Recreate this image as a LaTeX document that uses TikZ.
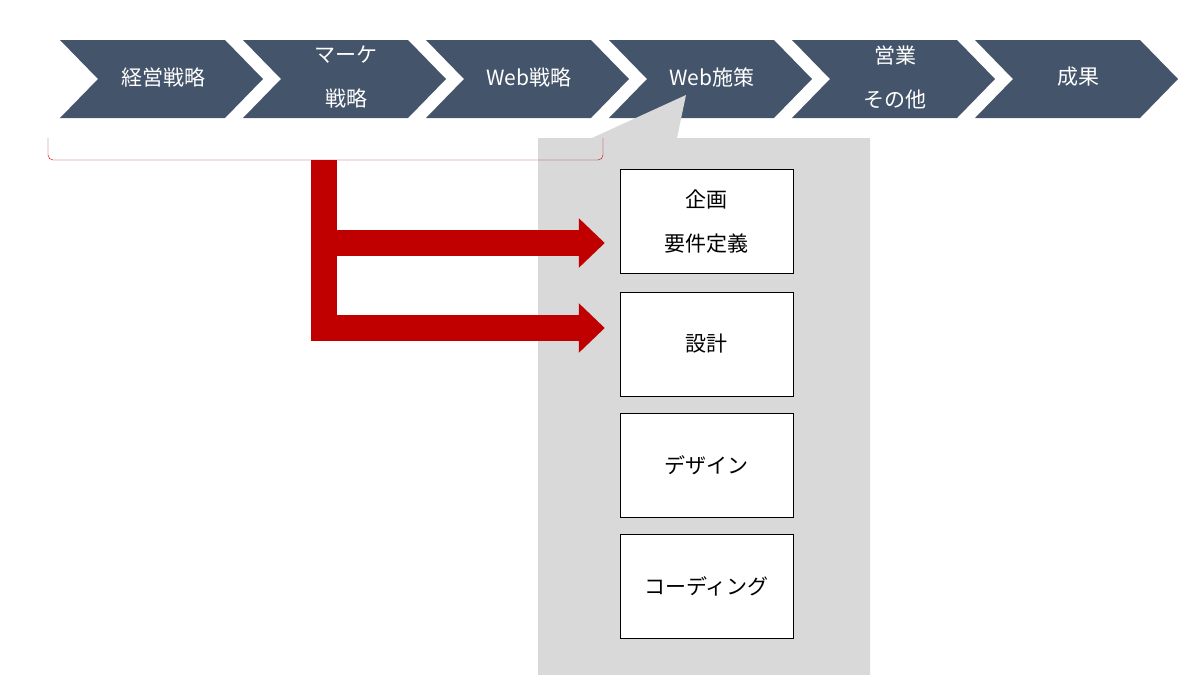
\documentclass[tikz,border=0pt]{standalone}
\usepackage{fontspec}
\setmainfont{Noto Sans CJK JP}
\usetikzlibrary{arrows.meta}
\definecolor{navy}{HTML}{44546A}
\definecolor{darkred}{HTML}{C00000}
\definecolor{lightgray}{HTML}{D9D9D9}
\tikzset{
  chevron/.style={fill=navy},
  steplabel/.style={text=white,font=\fontsize{21}{44}\selectfont,align=center},
  task/.style={draw,thin,fill=white,minimum width=173pt,minimum height=104pt,
    font=\fontsize{21}{44}\selectfont,align=center},
  flow/.style={darkred,line width=26pt,line join=miter,
    -{Triangle[width=48pt,length=26pt]}}
}
\begin{document}
\begin{tikzpicture}[x=1pt,y=-1pt]
\useasboundingbox (0,0) rectangle (1200,675);
\foreach \i/\t in {0/経営戦略,1/マーケ\\戦略,2/Web戦略,3/Web施策,4/営業\\その他,5/成果}{
  \pgfmathsetmacro{\xa}{60+183*\i}
  \fill[chevron] (\xa,40) -- ++(165,0) -- ++(38,39) -- ++(-38,39) -- ++(-165,0) -- ++(38,-39) -- cycle;
  \node[steplabel] (s\i) at (\xa+103,77) {\t};
}
\fill[lightgray] (538,138) -- (592,138) -- (686,95) -- (677,138) -- (870,138)
  -- (870,675) -- (538,675) -- cycle;
\node[task] (b1) at (706.5,221.5) {企画\\要件定義};
\node[task] (b2) at (706.5,344) {設計};
\node[task] (b3) at (706.5,465) {デザイン};
\node[task] (b4) at (706.5,586.5) {コーディング};
% brace under the first steps
\draw[darkred,thin,rounded corners=5pt] (48,138) -- (48,160) -- (603,160) -- (603,138);
\coordinate (br) at (324,160);
\coordinate (sp) at (324,243);
\coordinate (t1) at ([xshift=-15pt]b1.west |- sp);
\coordinate (t2) at ([xshift=-15pt]b2.west |- 0,328);
\draw[flow] (br) |- (t2);
\draw[flow] (sp) -- (t1);
\end{tikzpicture}
\end{document}
